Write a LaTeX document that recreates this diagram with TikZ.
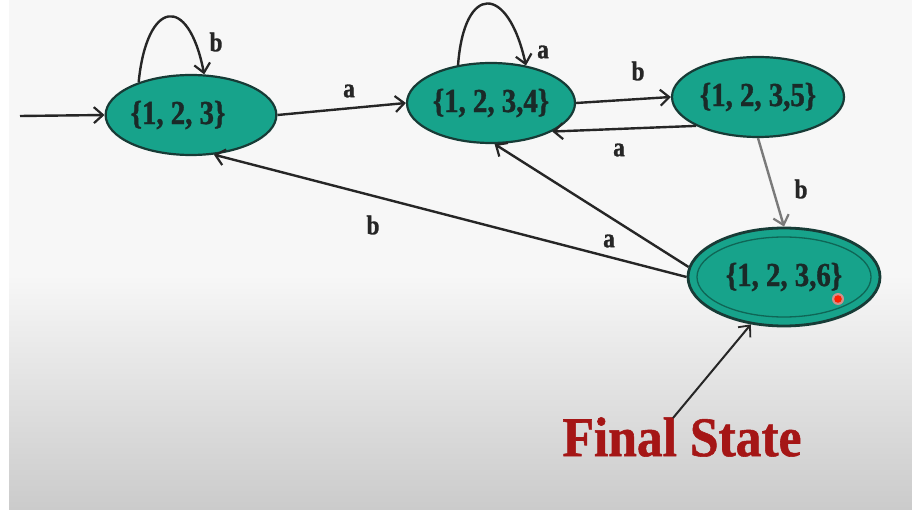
\documentclass[tikz,border=0pt]{standalone}
\usepackage{fontspec}
\setmainfont{Liberation Serif}
\newfontfamily\statefont{Liberation Serif Bold}[FakeStretch=0.86, FakeBold=1.2]
\newfontfamily\titlefont{Liberation Serif Bold}[FakeStretch=0.92, FakeBold=1.0]
\usetikzlibrary{shapes.geometric,arrows.meta}
\definecolor{bgtop}{HTML}{F7F7F7}
\definecolor{bgbot}{HTML}{CBCBCB}
\definecolor{statefill}{HTML}{17A38B}
\definecolor{stateline}{HTML}{173B36}
\definecolor{statetext}{HTML}{1A2A28}
\definecolor{innerline}{HTML}{0F6656}
\definecolor{finalred}{HTML}{A51616}
\definecolor{graywire}{HTML}{7A7A7A}
\begin{document}
\begin{tikzpicture}[x=1pt,y=1pt,
  state/.style={ellipse, draw=stateline, line width=2.2pt, fill=statefill,
    inner sep=0pt, minimum width=170pt, minimum height=80pt,
    text=statetext, font=\statefont\fontsize{33.5}{36}\selectfont},
  wire/.style={line width=2.4pt, draw=black!85,
    -{Straight Barb[length=9pt,width=16pt,line width=2.2pt]}},
  lbl/.style={inner sep=0pt, text=black!85,
    font=\statefont\fontsize{27}{29}\selectfont}]

% slide background
\useasboundingbox (0,0) rectangle (912,509);
\fill[white] (0,0) rectangle (912,509);
\fill[bgtop] (9,234) rectangle (912,509);
\shade[top color=bgtop, bottom color=bgbot] (9,0) rectangle (912,234);

% states
\node[state] (s1) at (191,394) {\{1, 2, 3\}\hspace*{26pt}};
\node[state, minimum width=168pt] (s2) at (491,406) {\{1, 2, 3,4\}};
\node[state, minimum width=172pt] (s3) at (758,412) {\{1, 2, 3,5\}};
\node[state, line width=2.8pt, minimum width=192pt, minimum height=98pt] (s4) at (784,232) {\{1, 2, 3,6\}};
\draw[innerline, line width=1.3pt] (s4.center) ellipse [x radius=87, y radius=40];

% pointer dot
\fill[red!45!white, opacity=0.8] (838,210) circle (6);
\fill[red!75!orange] (838,210) circle (3.8);

% start arrow
\coordinate (start) at (20,393);
\draw[wire] (start) -- (s1.west);

% transitions
\draw[wire] (s1.148) .. controls +(8,82) and +(-16,82) .. (s1.72);
\draw[wire] (s1.east) -- (s2.west);
\draw[wire] (s2.131) .. controls +(6,82) and +(-18,82) .. (s2.47);
\draw[wire] (s2.east) -- (s3.west);
\draw[wire] (s3.205) -- (s2.335);
\draw[wire, draw=graywire] (s3.south) -- (s4.north);
\draw[wire] (s4.180) -- (s1.300);
\draw[wire] (s4.174) -- (s2.275);

% transition labels
\node[lbl] (l1) at (216,467) {b};
\node[lbl] (l2) at (349,418) {a};
\node[lbl] (l3) at (543,457) {a};
\node[lbl] (l4) at (638,438) {b};
\node[lbl] (l5) at (619,359) {a};
\node[lbl] (l6) at (801,320) {b};
\node[lbl] (l7) at (609,268) {a};
\node[lbl] (l8) at (373,284) {b};

% final state caption
\node[text=finalred, inner sep=0pt, font=\titlefont\fontsize{56}{60}\selectfont]
  (final) at (682,72) {Final State};
\coordinate (tail) at (673,91);
\draw[line width=2pt, draw=black!85,
  -{Straight Barb[length=9pt,width=16pt,line width=1.8pt]}] (tail) -- (s4.235);
\end{tikzpicture}
\end{document}
